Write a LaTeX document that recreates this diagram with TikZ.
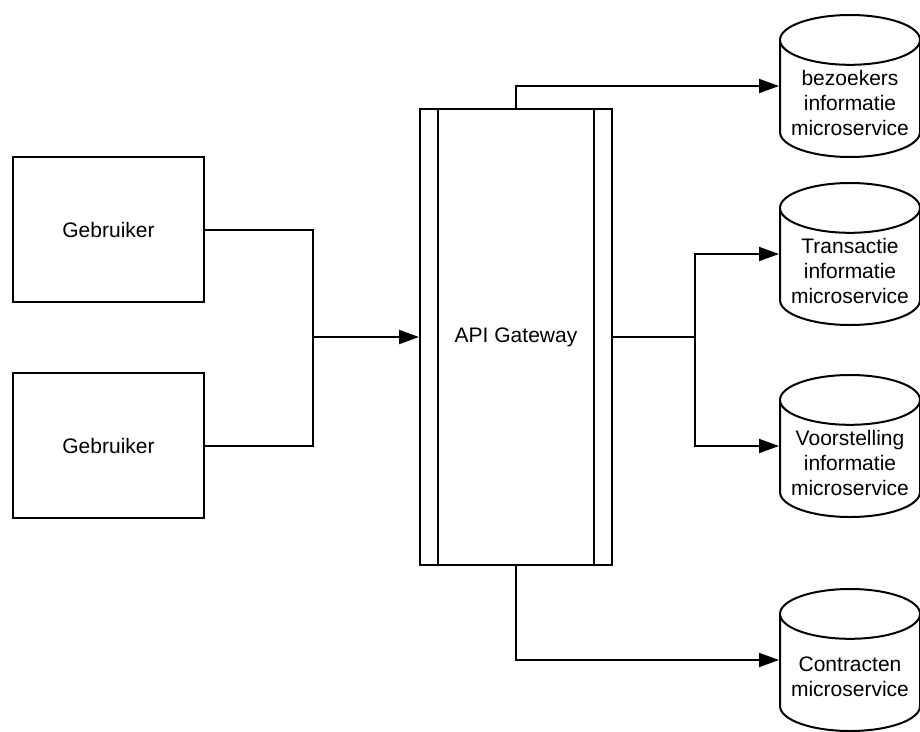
\documentclass[tikz,border=0pt]{standalone}
\usepackage{fontspec}
\setmainfont{Liberation Sans}
\usetikzlibrary{shapes.geometric,arrows.meta,calc}
\begin{document}
\begin{tikzpicture}[x=1pt,y=-1pt,
    tekst/.style={font=\fontsize{21}{25}\selectfont,align=center},
    box/.style={draw,tekst,line width=2pt,minimum width=191pt,minimum height=145pt},
    db/.style={draw,tekst,line width=2pt,cylinder,shape border rotate=90,aspect=0.4,
        minimum width=140pt,minimum height=142pt,anchor=shape center},
    link/.style={line width=2pt},
    pijl/.style={link,-{Triangle[length=20pt,width=14pt]}}]
                \useasboundingbox (0,0) rectangle (920,731);
                %utenti
                \node[box] (g1) at (108.5,229.5) {Gebruiker};
                \node[box] (g2) at (108.5,445.5) {Gebruiker};
                %gateway
                \node[box,minimum width=192pt,minimum height=456pt] (gw) at (516,337) {API Gateway};
                \draw[link] ($(gw.north west)+(19,0)$) -- ($(gw.south west)+(19,0)$);
                \draw[link] ($(gw.north east)+(-19,0)$) -- ($(gw.south east)+(-19,0)$);
                %microservizi
                \node[db] (c1) at (850,86) {bezoekers\\informatie\\microservice};
                \node[db] (c2) at (850,254) {Transactie\\informatie\\microservice};
                \node[db] (c3) at (850,446) {Voorstelling\\informatie\\microservice};
                \node[db] (c4) at (850,660) {Contracten\\microservice};
                %collegamenti
                \coordinate (jn) at (313,337);
                \coordinate (br) at (695,337);
                \draw[link] (g1.east) -| (jn);
                \draw[link] (g2.east) -| (jn);
                \draw[pijl] (jn) -- (gw.west);
                \draw[pijl] (gw.north) |- (c1.west |- c1.shape center);
                \draw[link] (gw.east) -- (br);
                \draw[pijl] (br) |- (c2.west |- c2.shape center);
                \draw[pijl] (br) |- (c3.west |- c3.shape center);
                \draw[pijl] (gw.south) |- (c4.west |- c4.shape center);
            \end{tikzpicture}
\end{document}
